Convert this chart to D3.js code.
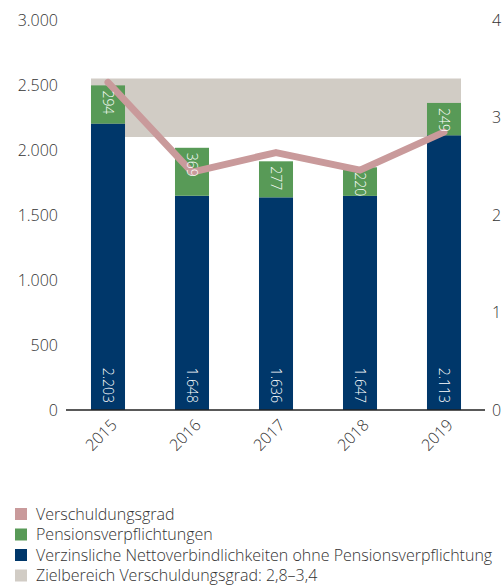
<!DOCTYPE html>
<html>
<head>
<meta charset="utf-8">
<script src="https://cdn.jsdelivr.net/npm/d3@7/dist/d3.min.js"></script>
<style>
  html, body { margin: 0; padding: 0; background: #fff; overflow: hidden; }
  svg text { font-family: "Open Sans", sans-serif; font-weight: 300; fill: #333; }
</style>
</head>
<body>
<svg id="chart" width="503" height="585"></svg>
<script>
// Net debt (EUR m) split into interest-bearing net liabilities and pension provisions,
// with leverage ratio on the secondary axis.
const years = ["2015", "2016", "2017", "2018", "2019"];
const netDebt = [2203, 1648, 1636, 1647, 2113];
const pensions = [294, 369, 277, 220, 249];
const leverage = [3.36, 2.44, 2.64, 2.46, 2.85];
const targetRange = [2.8, 3.4];
const leftTicks = [0, 500, 1000, 1500, 2000, 2500, 3000];
const rightTicks = [0, 1, 2, 3, 4];
const legendLabels = [
  "Verschuldungsgrad",
  "Pensionsverpflichtungen",
  "Verzinsliche Nettoverbindlichkeiten ohne Pensionsverpflichtung",
  "Zielbereich Verschuldungsgrad: 2,8\u20133,4"
];

const colors = {
  leverage: "#c99a9b",
  pensions: "#589a57",
  netDebt: "#00376a",
  target: "#d1ccc5"
};

const fmt = d3.formatLocale({ decimal: ",", thousands: ".", grouping: [3], currency: ["", "€"] }).format(",");

const svg = d3.select("#chart");
const plot = { left: 66, right: 486, top: 20, bottom: 410 };

const x = d3.scaleBand().domain(years).range([plot.left, plot.right]).paddingInner(0.595).paddingOuter(0.2975);
const yL = d3.scaleLinear().domain([0, 3000]).range([plot.bottom, plot.top]);
const yR = d3.scaleLinear().domain([0, 4]).range([plot.bottom, plot.top]);

// target corridor
svg.append("rect")
  .attr("x", x(years[0]))
  .attr("width", x(years[years.length - 1]) + x.bandwidth() - x(years[0]))
  .attr("y", yR(targetRange[1]))
  .attr("height", yR(targetRange[0]) - yR(targetRange[1]))
  .attr("fill", colors.target);

// stacked bars
const rows = years.map((yr, i) => ({ yr, base: netDebt[i], pen: pensions[i] }));
const g = svg.append("g");
g.selectAll("rect.base").data(rows).join("rect")
  .attr("x", d => x(d.yr)).attr("width", x.bandwidth())
  .attr("y", d => yL(d.base)).attr("height", d => yL(0) - yL(d.base))
  .attr("fill", colors.netDebt);
g.selectAll("rect.pen").data(rows).join("rect")
  .attr("x", d => x(d.yr)).attr("width", x.bandwidth())
  .attr("y", d => yL(d.base + d.pen)).attr("height", d => yL(d.base) - yL(d.base + d.pen))
  .attr("fill", colors.pensions);

// leverage line
const line = d3.line().x((d, i) => x(years[i]) + x.bandwidth() / 2).y(d => yR(d));
svg.append("path").datum(leverage)
  .attr("d", line)
  .attr("fill", "none")
  .attr("stroke", colors.leverage)
  .attr("stroke-width", 7)
  .attr("stroke-linecap", "round")
  .attr("stroke-linejoin", "round");

// value labels inside bars, drawn above the line
const cx = d => x(d.yr) + x.bandwidth() / 2;
const lbl = svg.append("g");
lbl.selectAll("text.base").data(rows).join("text")
  .attr("transform", d => `translate(${cx(d)},${yL(0) - 7}) rotate(90)`)
  .attr("text-anchor", "end").attr("dy", "0.36em")
  .style("font-size", "14px").style("fill", "#fff")
  .text(d => fmt(d.base));
lbl.selectAll("text.pen").data(rows).join("text")
  .attr("transform", d => `translate(${cx(d)},${yL(d.base + d.pen) + 5}) rotate(90)`)
  .attr("text-anchor", "start").attr("dy", "0.36em")
  .style("font-size", "14px").style("fill", "#fff")
  .text(d => fmt(d.pen));

// left axis
const axL = svg.append("g").attr("transform", `translate(${plot.left},0)`)
  .call(d3.axisLeft(yL).tickValues(leftTicks).tickFormat(fmt).tickSize(0).tickPadding(8));
axL.select(".domain").remove();
axL.selectAll("text").style("font-size", "16px").attr("dy", "0.34em");

// right axis
const axR = svg.append("g").attr("transform", `translate(${plot.right},0)`)
  .call(d3.axisRight(yR).tickValues(rightTicks).tickFormat(d3.format("d")).tickSize(0).tickPadding(6));
axR.select(".domain").remove();
axR.selectAll("text").style("font-size", "16px").attr("dy", "0.34em");

// baseline
svg.append("line")
  .attr("x1", plot.left).attr("x2", plot.right - 1)
  .attr("y1", yL(0)).attr("y2", yL(0))
  .attr("stroke", "#222").attr("stroke-width", 1.5);

// year labels
svg.append("g").selectAll("text").data(years).join("text")
  .attr("transform", d => `translate(${x(d) + x.bandwidth() / 2 + 6},${plot.bottom + 12}) rotate(-45)`)
  .attr("text-anchor", "end").attr("dy", "0.35em")
  .style("font-size", "16px")
  .text(d => d);

// legend
const legendColors = [colors.leverage, colors.pensions, colors.netDebt, colors.target];
const lg = svg.append("g").selectAll("g").data(legendLabels).join("g")
  .attr("transform", (d, i) => `translate(15,${514 + i * 20.5})`);
lg.append("rect").attr("x", 0).attr("y", -6).attr("width", 12).attr("height", 12)
  .attr("fill", (d, i) => legendColors[i]);
lg.append("text").attr("x", 21).attr("dy", "0.35em")
  .style("font-size", "16px").text(d => d);
</script>
</body>
</html>
